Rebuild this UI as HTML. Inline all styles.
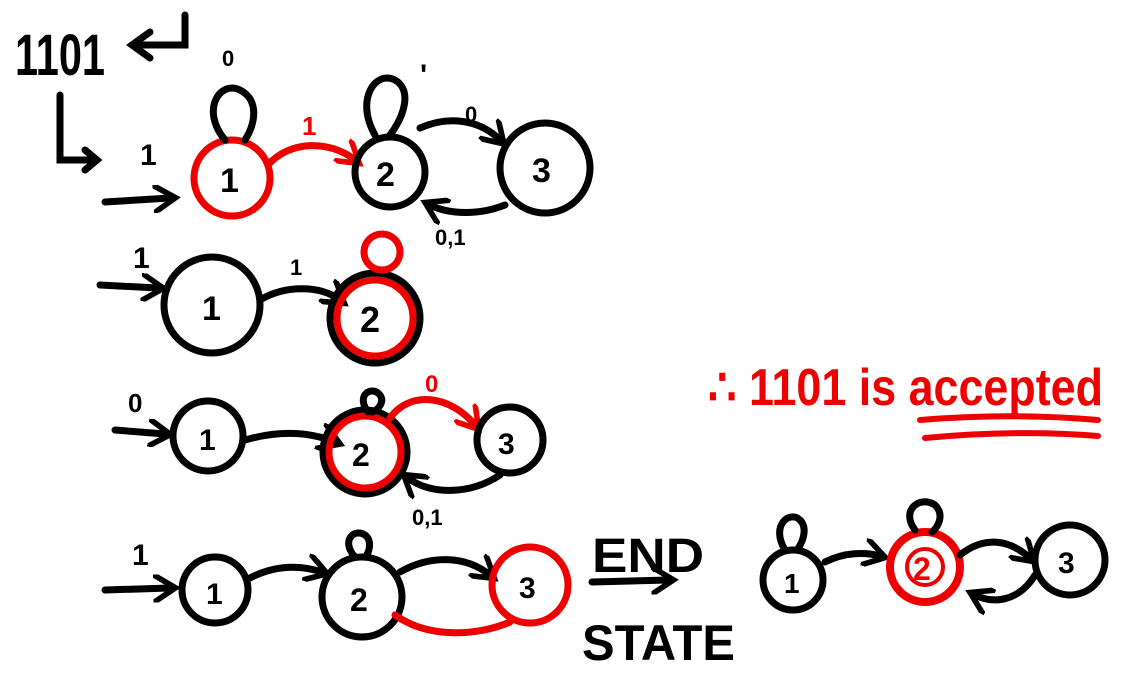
<!DOCTYPE html>
<html><head><meta charset="utf-8"><style>
html,body{margin:0;padding:0;background:#fff;}
svg{display:block}
text{font-family:"Liberation Sans",sans-serif;font-weight:bold;}
</style></head><body>
<svg width="1136" height="677" viewBox="0 0 1136 677">
<defs>
<marker id="ahk" viewBox="0 0 10 10" refX="6" refY="5" markerWidth="4" markerHeight="4" orient="auto"><path d="M0,0 L8,5 L0,10" fill="none" stroke="#000" stroke-width="2"/></marker>
<marker id="ahr" viewBox="0 0 10 10" refX="6" refY="5" markerWidth="4" markerHeight="4" orient="auto"><path d="M0,0 L8,5 L0,10" fill="none" stroke="#e00" stroke-width="2"/></marker>
</defs>
<g fill="none" stroke="#000" stroke-width="7" stroke-linecap="round">
<text x="15" y="75" font-size="58" textLength="90" lengthAdjust="spacingAndGlyphs" fill="#000" stroke="none">1101</text>
<path d="M185,15 L185,45 L135,45 M150,32 L132,45 L150,58"/>
<path d="M60,95 L60,160 L95,160 M85,150 L97,160 L85,170"/>

<g>
<text x="140" y="165" font-size="30" fill="#000" stroke="none">1</text>
<path d="M105,202 L170,198" marker-end="url(#ahk)"/>
<circle cx="232" cy="178" r="38" stroke="#e00"/>
<text x="220" y="192" font-size="34" fill="#000" stroke="none">1</text>
<path d="M225,140 C200,110 220,80 240,90 C260,100 255,125 245,140"/>
<text x="222" y="66" font-size="22" fill="#000" stroke="none">0</text>
<path d="M268,165 C290,140 330,140 355,160" stroke="#e00" marker-end="url(#ahr)"/>
<text x="302" y="135" font-size="26" fill="#e00" stroke="none">1</text>
<circle cx="390" cy="172" r="35"/>
<text x="376" y="186" font-size="34" fill="#000" stroke="none">2</text>
<path d="M375,135 C355,100 375,70 395,80 C412,90 405,115 390,135"/>
<text x="420" y="85" font-size="30" fill="#000" stroke="none">'</text>
<path d="M420,128 C450,115 480,120 500,140" marker-end="url(#ahk)"/>
<text x="465" y="122" font-size="22" fill="#000" stroke="none">0</text>
<circle cx="545" cy="168" r="45"/>
<text x="532" y="182" font-size="34" fill="#000" stroke="none">3</text>
<path d="M505,205 C480,215 450,215 430,205" marker-end="url(#ahk)"/>
<text x="435" y="245" font-size="22" fill="#000" stroke="none">0,1</text>
</g>

<g>
<text x="133" y="268" font-size="30" fill="#000" stroke="none">1</text>
<path d="M100,285 L158,288" marker-end="url(#ahk)"/>
<circle cx="212" cy="305" r="48"/>
<text x="202" y="320" font-size="34" fill="#000" stroke="none">1</text>
<path d="M260,300 C285,285 320,285 340,300" marker-end="url(#ahk)"/>
<text x="290" y="275" font-size="22" fill="#000" stroke="none">1</text>
<circle cx="375" cy="318" r="45"/>
<circle cx="375" cy="318" r="38" stroke="#e00"/>
<text x="360" y="332" font-size="36" fill="#000" stroke="none">2</text>
<circle cx="382" cy="252" r="18" stroke="#e00"/>
</g>

<g>
<text x="128" y="412" font-size="26" fill="#000" stroke="none">0</text>
<path d="M115,430 L165,434" marker-end="url(#ahk)"/>
<circle cx="208" cy="436" r="35"/>
<text x="199" y="450" font-size="30" fill="#000" stroke="none">1</text>
<path d="M245,440 C280,430 310,432 335,442" marker-end="url(#ahk)"/>
<circle cx="365" cy="452" r="42"/>
<circle cx="365" cy="452" r="36" stroke="#e00"/>
<text x="352" y="466" font-size="32" fill="#000" stroke="none">2</text>
<path d="M368,412 C355,395 372,385 380,395 C385,402 378,410 372,412"/>
<path d="M390,418 C410,390 450,395 475,425" stroke="#e00" marker-end="url(#ahr)"/>
<text x="425" y="392" font-size="24" fill="#e00" stroke="none">0</text>
<circle cx="510" cy="440" r="33"/>
<text x="498" y="454" font-size="30" fill="#000" stroke="none">3</text>
<path d="M500,475 C470,495 430,495 408,478" marker-end="url(#ahk)"/>
<text x="412" y="525" font-size="22" fill="#000" stroke="none">0,1</text>
</g>

<g>
<text x="132" y="565" font-size="30" fill="#000" stroke="none">1</text>
<path d="M105,590 L170,588" marker-end="url(#ahk)"/>
<circle cx="215" cy="590" r="33"/>
<text x="206" y="604" font-size="30" fill="#000" stroke="none">1</text>
<path d="M250,578 C275,565 300,565 322,572" marker-end="url(#ahk)"/>
<circle cx="362" cy="597" r="40"/>
<text x="350" y="611" font-size="32" fill="#000" stroke="none">2</text>
<path d="M355,557 C340,540 355,528 365,535 C372,540 370,552 365,557"/>
<path d="M400,572 C430,555 465,555 490,575" marker-end="url(#ahk)"/>
<circle cx="530" cy="585" r="38" stroke="#e00"/>
<text x="519" y="598" font-size="30" fill="#000" stroke="none">3</text>
<path d="M395,615 C430,640 480,635 510,622" stroke="#e00"/>
<text x="592" y="572" font-size="48" textLength="112" lengthAdjust="spacingAndGlyphs" fill="#000" stroke="none">END</text>
<path d="M592,582 L668,580" marker-end="url(#ahk)"/>
<text x="582" y="660" font-size="50" textLength="153" lengthAdjust="spacingAndGlyphs" fill="#000" stroke="none">STATE</text>
</g>

<g>
<circle cx="793" cy="580" r="30"/>
<text x="784" y="593" font-size="28" fill="#000" stroke="none">1</text>
<path d="M785,550 C770,525 790,510 800,520 C808,528 803,542 797,550"/>
<path d="M825,562 C845,552 865,552 880,556" marker-end="url(#ahk)"/>
<circle cx="925" cy="567" r="35" stroke="#e00" stroke-width="8"/>
<circle cx="925" cy="567" r="18" stroke="#e00" stroke-width="4"/>
<text x="913" y="580" font-size="32" fill="#e00" stroke="none">2</text>
<path d="M915,530 C900,510 920,495 935,505 C945,515 938,527 932,532"/>
<path d="M960,555 C985,535 1010,540 1030,558" marker-end="url(#ahk)"/>
<circle cx="1070" cy="560" r="35"/>
<text x="1058" y="573" font-size="30" fill="#000" stroke="none">3</text>
<path d="M1035,575 C1020,600 995,605 975,595" marker-end="url(#ahk)"/>
</g>

<g>
<text x="708" y="405" font-size="52" textLength="395" lengthAdjust="spacingAndGlyphs" fill="#e00" stroke="none">∴ 1101 is accepted</text>
<path d="M920,420 C980,415 1040,415 1098,420" stroke="#e00" stroke-width="6"/>
<path d="M925,438 C990,432 1050,432 1098,436" stroke="#e00" stroke-width="6"/>
</g>
</g>
</svg>
</body></html>
